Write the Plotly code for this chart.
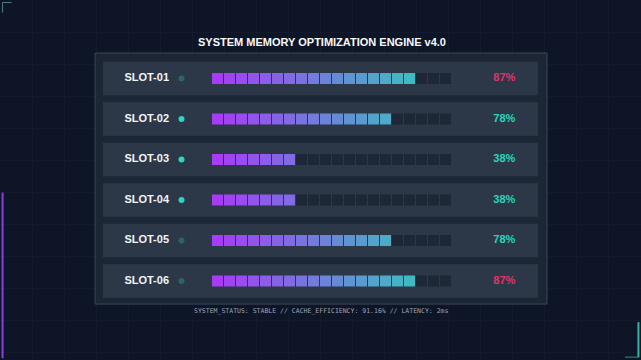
import plotly.graph_objects as go

# ---- data ----
slots = ["SLOT-01", "SLOT-02", "SLOT-03", "SLOT-04", "SLOT-05", "SLOT-06"]
usage_pct = [87, 78, 38, 38, 78, 87]
active = [False, True, True, True, False, False]
n_segments = 20
title_text = "SYSTEM MEMORY OPTIMIZATION ENGINE v4.0"
footer_text = "SYSTEM_STATUS: STABLE // CACHE_EFFICIENCY: 91.16% // LATENCY: 2ms"

# ---- style ----
BG = "#0e1526"
PANEL = "#1d2634"
PANEL_BORDER = "#3a4656"
ROW = "#2c3848"
EMPTY = "#1d2735"
C_START = (166, 60, 245)
C_END = (45, 210, 185)
TEAL = "#2dd4bf"
DIM_TEAL = "#2a6469"
PINK = "#e0336b"
FONT = "Liberation Sans, Arial, sans-serif"


def seg_color(i):
    t = i / (n_segments - 1)
    r, g, b = (round(a + (c - a) * t) for a, c in zip(C_START, C_END))
    return f"rgb({r},{g},{b})"


xs, ys, cols = [], [], []
for j, pct in enumerate(usage_pct):
    filled = pct // 5
    for i in range(n_segments):
        xs.append(i)
        ys.append(j)
        cols.append(seg_color(i) if i < filled else EMPTY)

fig = go.Figure()

# invisible trace on grid axes so they render
fig.add_trace(go.Scatter(x=[0], y=[0], xaxis="x2", yaxis="y2", mode="markers",
                         marker=dict(size=1, opacity=0), hoverinfo="skip", showlegend=False))

fig.add_trace(go.Scatter(
    x=xs, y=ys, mode="markers",
    marker=dict(symbol="square", size=11, color=cols, line=dict(width=0)),
    hoverinfo="skip", showlegend=False))

# status dots
fig.add_trace(go.Scatter(
    x=[-3] * len(slots), y=list(range(len(slots))), mode="markers",
    marker=dict(size=6, color=[TEAL if a else DIM_TEAL for a in active], line=dict(width=0)),
    hoverinfo="skip", showlegend=False))

# slot labels
fig.add_trace(go.Scatter(
    x=[-5.9] * len(slots), y=list(range(len(slots))), mode="text", text=slots,
    textfont=dict(family=FONT, size=11, color="#f1f5f9", weight="bold"),
    hoverinfo="skip", showlegend=False))

# percentages
fig.add_trace(go.Scatter(
    x=[23.9] * len(slots), y=list(range(len(slots))), mode="text",
    text=[f"{p}%" for p in usage_pct],
    textfont=dict(family=FONT, size=11, color=[PINK if p >= 80 else TEAL for p in usage_pct],
                  weight="bold"),
    hoverinfo="skip", showlegend=False))

shapes = []
# panel
shapes.append(dict(type="rect", xref="x", yref="y", x0=-10.2, x1=27.46, y0=-0.63, y1=5.57,
                   fillcolor=PANEL, line=dict(color=PANEL_BORDER, width=1), layer="between"))
for j in range(len(slots)):
    shapes.append(dict(type="rect", xref="x", yref="y", x0=-9.54, x1=26.7,
                       y0=j - 0.414, y1=j + 0.414, fillcolor=ROW,
                       line=dict(width=0), layer="between"))

# decorative frame accents
shapes.append(dict(type="line", xref="paper", yref="paper", x0=0.004, x1=0.004, y0=0.005, y1=0.465,
                   line=dict(color="#8b3fe0", width=2), layer="above"))
shapes.append(dict(type="line", xref="paper", yref="paper", x0=0.996, x1=0.996, y0=0.008, y1=0.105,
                   line=dict(color="#2fb7a8", width=2), layer="above"))
shapes.append(dict(type="line", xref="paper", yref="paper", x0=0.975, x1=0.997, y0=0.008, y1=0.008,
                   line=dict(color="#2f8f88", width=1), layer="above"))
shapes.append(dict(type="line", xref="paper", yref="paper", x0=0.004, x1=0.018, y0=0.993, y1=0.993,
                   line=dict(color="#4c7f88", width=1), layer="above"))
shapes.append(dict(type="line", xref="paper", yref="paper", x0=0.004, x1=0.004, y0=0.993, y1=0.965,
                   line=dict(color="#4c7f88", width=1), layer="above"))

annotations = [
    dict(x=8.7, y=-0.9, xref="x", yref="y", text=f"<b>{title_text}</b>", showarrow=False,
         font=dict(family=FONT, size=11, color="#f8fafc")),
    dict(x=8.6, y=5.74, xref="x", yref="y", text=footer_text, showarrow=False,
         font=dict(family="DejaVu Sans Mono, monospace", size=6.5, color="#9aa4b4")),
]

fig.update_layout(
    width=641, height=360, margin=dict(l=0, r=0, t=0, b=0),
    paper_bgcolor=BG, plot_bgcolor=BG,
    shapes=shapes, annotations=annotations,
    xaxis=dict(range=[-18.125, 35.29], domain=[0, 1], visible=False, fixedrange=True),
    yaxis=dict(range=[6.951, -1.938], domain=[0, 1], visible=False, fixedrange=True),
    xaxis2=dict(range=[0, 641], overlaying="x", showgrid=True, gridcolor="rgba(120,140,180,0.045)",
                dtick=32, tick0=0, showticklabels=False, zeroline=False, ticks="", fixedrange=True),
    yaxis2=dict(range=[0, 360], overlaying="y", showgrid=True, gridcolor="rgba(120,140,180,0.045)",
                dtick=32, tick0=8, showticklabels=False, zeroline=False, ticks="", fixedrange=True),
)

fig.write_html("out.html")
